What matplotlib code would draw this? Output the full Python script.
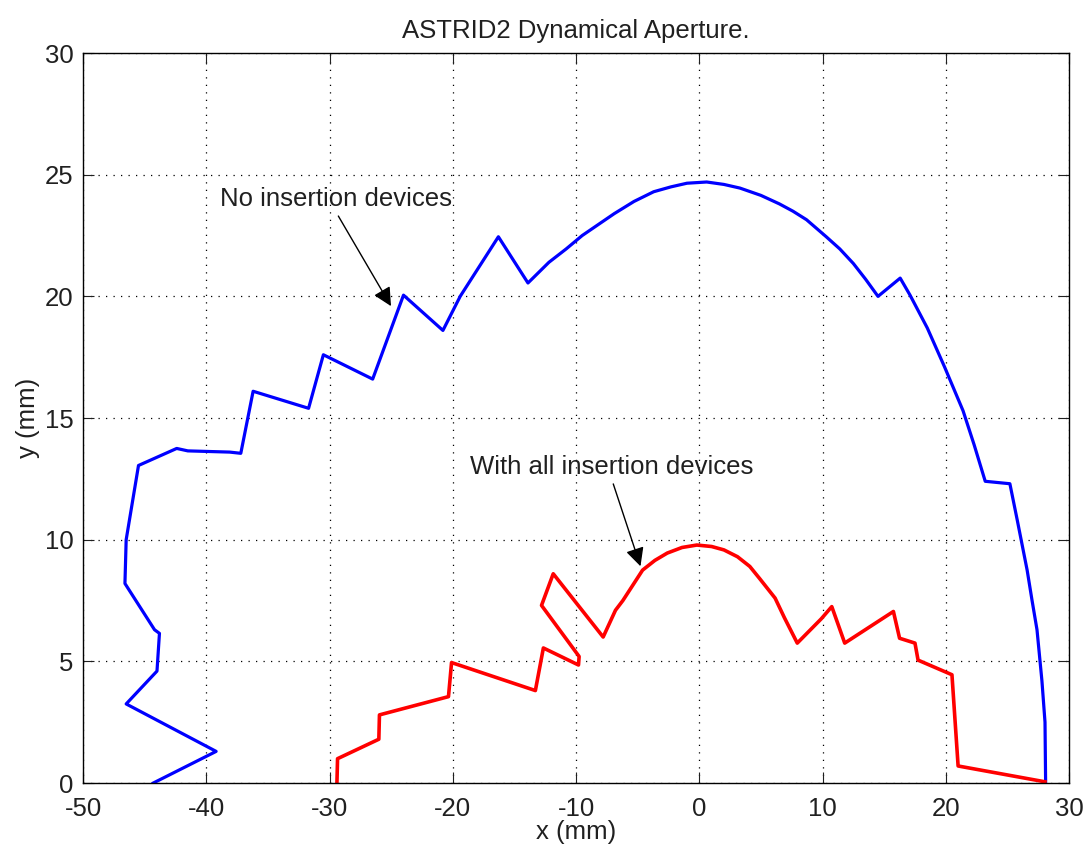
import matplotlib.pyplot as plt
import numpy as np

plt.rcParams['font.family'] = ['Liberation Sans', 'DejaVu Sans']
plt.rcParams['axes.unicode_minus'] = False

# dynamic aperture boundary, no insertion devices (mm)
x_noid = [-44.3, -39.2, -46.5, -44.0, -43.8, -44.2, -46.6, -46.5, -45.5, -42.4,
          -41.5, -38.1, -37.2, -36.2, -31.7, -30.5, -26.5, -24.0, -20.8, -19.4,
          -16.3, -13.9, -12.2, -10.8, -9.5, -8.2, -6.9, -5.3, -3.7, -2.3,
          -1.0, 0.6, 2.0, 3.3, 5.0, 6.5, 7.6, 8.7, 10.3, 11.4,
          12.5, 13.5, 14.5, 16.3, 17.1, 18.5, 19.9, 21.4, 22.3, 23.2,
          25.2, 25.8, 26.6, 27.0, 27.4, 27.8, 28.05, 28.1]
y_noid = [0.0, 1.3, 3.25, 4.6, 6.15, 6.3, 8.2, 10.0, 13.05, 13.75,
          13.65, 13.6, 13.55, 16.1, 15.4, 17.6, 16.6, 20.05, 18.6, 20.0,
          22.45, 20.55, 21.4, 21.95, 22.5, 22.95, 23.4, 23.9, 24.3, 24.5,
          24.65, 24.7, 24.6, 24.45, 24.15, 23.8, 23.5, 23.15, 22.45, 21.95,
          21.35, 20.7, 20.0, 20.75, 20.05, 18.7, 17.1, 15.3, 13.9, 12.4,
          12.3, 10.8, 8.75, 7.5, 6.3, 4.2, 2.5, 0.0]

# with all insertion devices (mm)
x_id = [-29.4, -29.35, -26.0, -25.95, -20.35, -20.1, -13.3, -12.65, -9.8, -9.75,
        -12.8, -11.85, -7.8, -6.8, -6.2, -4.6, -3.6, -2.6, -1.4, -0.2,
        1.0, 2.0, 3.1, 4.1, 4.9, 6.15, 6.9, 7.95, 9.9, 10.75,
        11.8, 15.75, 16.25, 17.5, 17.75, 20.5, 21.0, 28.05]
y_id = [0.0, 1.0, 1.8, 2.8, 3.55, 4.95, 3.8, 5.55, 4.85, 5.2,
        7.3, 8.6, 6.0, 7.1, 7.5, 8.75, 9.15, 9.45, 9.68, 9.78,
        9.72, 9.58, 9.3, 8.9, 8.4, 7.6, 6.8, 5.75, 6.75, 7.25,
        5.75, 7.05, 5.95, 5.75, 5.05, 4.45, 0.7, 0.05]

# annotation text, text anchor, arrow start, arrow tip
labels = ['No insertion devices', 'With all insertion devices']
label_xy = [(-38.9, 24.0), (-18.6, 13.0)]
arrow_from = [(-29.4, 23.4), (-7.05, 12.4)]
arrow_to = [(-24.9, 19.5), (-4.7, 8.8)]

fig = plt.figure(figsize=(10.84, 8.5), dpi=100)
ax = fig.add_axes([0.0766, 0.0788, 0.9096, 0.8588])

ax.plot(x_noid, y_noid, color='#0000ff', lw=2.3)
ax.plot(x_id, y_id, color='#ff0000', lw=2.6)

for txt, p, a, b in zip(labels, label_xy, arrow_from, arrow_to):
    ax.text(p[0], p[1], txt, fontsize=18.5, ha='left', va='center', color='#202020')
    ax.annotate('', xy=b, xytext=a,
                arrowprops=dict(arrowstyle='-|>', lw=1.0, color='k', mutation_scale=28))

ax.set_xlim(-50, 30)
ax.set_ylim(0, 30)
ax.set_xticks(np.arange(-50, 31, 10))
ax.set_yticks(np.arange(0, 31, 5))
ax.grid(True, color='k', linestyle=(0, (1, 5)), lw=0.9)
ax.tick_params(direction='in', length=8, top=True, right=True, labelsize=18.5,
               colors='#202020')
ax.tick_params(axis='x', pad=10)
ax.tick_params(axis='y', pad=7)
for s in ax.spines.values():
    s.set_linewidth(1.0)

ax.set_xlabel('x (mm)', fontsize=18.5, labelpad=-1, color='#202020')
ax.set_ylabel('y (mm)', fontsize=18.5, labelpad=3, color='#202020')
ax.set_title('ASTRID2 Dynamical Aperture.', fontsize=18.5, pad=11, color='#202020')

plt.savefig('out.png', dpi=100)
